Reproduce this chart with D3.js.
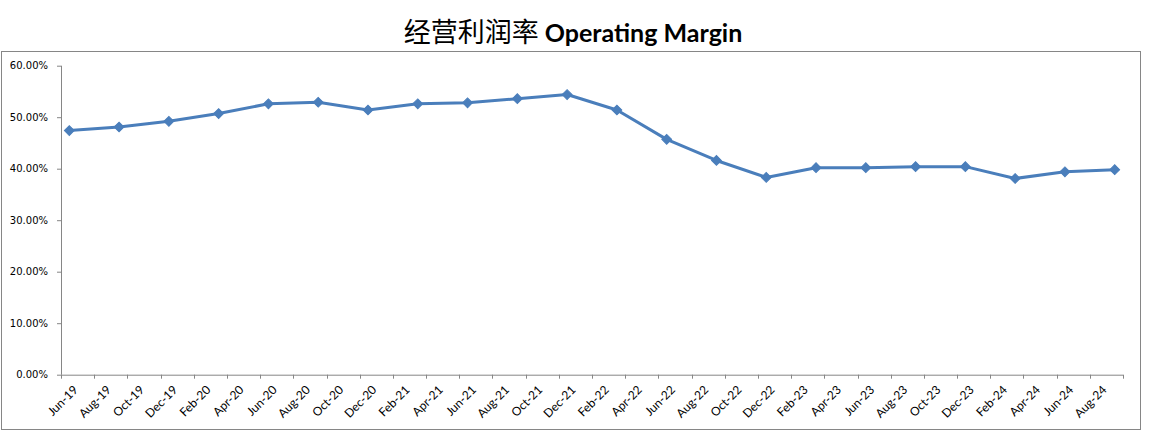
<!DOCTYPE html>
<html>
<head>
<meta charset="utf-8">
<script src="https://cdn.jsdelivr.net/npm/d3@7"></script>
<style>
  html, body { margin: 0; padding: 0; background: #fff; }
  svg { display: block; }
</style>
</head>
<body>
<svg id="chart" width="1151" height="433"></svg>
<script>
// ---- Data ----
const titleCN = "经营利润率";
const titleEN = "Operating Margin";
const dates = ["Jun-19","Sep-19","Dec-19","Mar-20","Jun-20","Sep-20","Dec-20","Mar-21","Jun-21","Sep-21","Dec-21",
               "Mar-22","Jun-22","Sep-22","Dec-22","Mar-23","Jun-23","Sep-23","Dec-23","Mar-24","Jun-24","Sep-24"];
const margin = [0.474,0.481,0.492,0.507,0.526,0.529,0.514,0.526,0.528,0.536,0.544,
                0.514,0.457,0.416,0.383,0.402,0.402,0.404,0.404,0.381,0.394,0.398];
const tickLabels = ["Jun-19","Aug-19","Oct-19","Dec-19","Feb-20","Apr-20","Jun-20","Aug-20","Oct-20","Dec-20",
                    "Feb-21","Apr-21","Jun-21","Aug-21","Oct-21","Dec-21","Feb-22","Apr-22","Jun-22","Aug-22",
                    "Oct-22","Dec-22","Feb-23","Apr-23","Jun-23","Aug-23","Oct-23","Dec-23","Feb-24","Apr-24",
                    "Jun-24","Aug-24"];
const yTicks = [0,0.1,0.2,0.3,0.4,0.5,0.6];

// ---- Layout ----
const svg = d3.select("#chart");
const plot = { left: 61, right: 1123, top: 65.7, bottom: 374.7 };
const parse = d3.timeParse("%b-%y");
const fmtKey = d3.timeFormat("%Y-%m");

// monthly slots (date axis, base unit = month)
const firstMonth = parse(tickLabels[0]);
const endMonth = d3.timeMonth.offset(parse(tickLabels[tickLabels.length - 1]), 2);
const months = d3.timeMonth.range(firstMonth, endMonth).map(fmtKey);

const x = d3.scaleBand().domain(months).range([plot.left, plot.right]);
const y = d3.scaleLinear().domain([0, 0.6]).range([plot.bottom, plot.top]);

const axisColor = "#868686";
const lineColor = "#4A7EBB";

// chart frame
svg.append("rect")
  .attr("x", 1.5).attr("y", 51.5).attr("width", 1139).attr("height", 378)
  .attr("fill", "#fff").attr("stroke", axisColor).attr("stroke-width", 1);

// title
const title = svg.append("text")
  .attr("x", 573).attr("y", 42)
  .attr("text-anchor", "middle")
  .attr("fill", "#000");
title.append("tspan")
  .attr("font-family", "'Noto Sans CJK SC', sans-serif")
  .attr("font-size", 27)
  .text(titleCN);
title.append("tspan")
  .attr("font-family", "Lato, 'Open Sans', sans-serif")
  .attr("font-weight", "bold")
  .attr("font-size", 25)
  .text(" " + titleEN);

// y axis
const yAxis = d3.axisLeft(y).tickValues(yTicks).tickSize(4).tickPadding(9)
  .tickFormat(d3.format(".2%"));
const gy = svg.append("g").attr("transform", `translate(${plot.left},0)`).call(yAxis);
gy.select(".domain").attr("stroke", axisColor).attr("d", `M0.5,${plot.top}V${plot.bottom}`);
gy.selectAll(".tick line").attr("stroke", axisColor);
gy.selectAll(".tick text")
  .attr("font-family", "'DejaVu Sans', Verdana, sans-serif")
  .attr("font-size", 10).attr("fill", "#000");

// x axis
const labelKeys = tickLabels.map(t => fmtKey(parse(t)));
const xAxis = d3.axisBottom(x).tickValues(labelKeys).tickSize(0).tickFormat("");
const gx = svg.append("g").attr("transform", `translate(0,${plot.bottom})`).call(xAxis);
gx.select(".domain").attr("stroke", axisColor).attr("d", `M${plot.left},0.5H${plot.right}`);
gx.selectAll(".tick").remove();

// tick marks at boundaries of each 2-month label span
const tickPos = labelKeys.map(k => x(k)).concat([plot.right]);
gx.selectAll("line.tk").data(tickPos).enter().append("line")
  .attr("class", "tk")
  .attr("x1", d => Math.round(d) + 0.5).attr("x2", d => Math.round(d) + 0.5)
  .attr("y1", 0).attr("y2", 4)
  .attr("stroke", axisColor);

// rotated labels centered on each 2-month span
gx.selectAll("text.lbl").data(tickLabels).enter().append("text")
  .attr("class", "lbl")
  .attr("transform", (d, i) => {
    const cx = x(labelKeys[i]) + x.bandwidth();
    return `translate(${cx - 2},13) rotate(-45)`;
  })
  .attr("text-anchor", "end")
  .attr("dy", "0.35em")
  .attr("font-family", "Lato, 'Open Sans', sans-serif")
  .attr("font-size", 12)
  .attr("fill", "#000")
  .text(d => d);

// line + markers
const pts = dates.map((d, i) => ({ key: fmtKey(parse(d)), v: margin[i] }));
const px = d => x(d.key) + x.bandwidth() / 2;
const line = d3.line().x(px).y(d => y(d.v));

svg.append("path")
  .datum(pts)
  .attr("fill", "none")
  .attr("stroke", lineColor)
  .attr("stroke-width", 3)
  .attr("stroke-linejoin", "round")
  .attr("d", line);

const diamond = d3.symbol().type(d3.symbolSquare).size(48);
svg.selectAll("path.mk").data(pts).enter().append("path")
  .attr("class", "mk")
  .attr("transform", d => `translate(${px(d)},${y(d.v)}) rotate(45)`)
  .attr("d", diamond)
  .attr("fill", lineColor)
  .attr("stroke", lineColor)
  .attr("stroke-width", 1);
</script>
</body>
</html>
